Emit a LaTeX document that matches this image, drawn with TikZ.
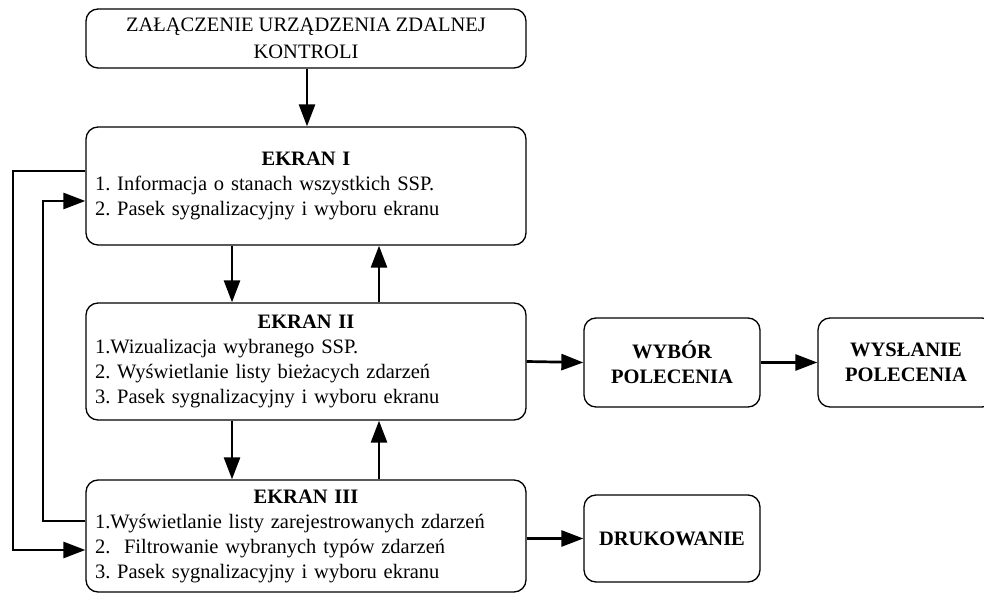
\documentclass[tikz,border=0pt]{standalone}
\usepackage{fontspec}
\setmainfont{Liberation Serif}
\usetikzlibrary{arrows.meta}
\frenchspacing

\tikzset{
  box/.style={draw, line width=1.3pt, rounded corners=12pt, align=center,
    inner sep=0pt},
  screen/.style={box, minimum width=440pt, text width=422pt, align=left},
  cmd/.style={box, minimum width=176pt, font=\fontsize{20.5}{25}\selectfont\bfseries},
  flow/.style={line width=2.7pt, -{Triangle[length=22pt,width=16pt]}}
}

\begin{document}
\begin{tikzpicture}[x=1pt,y=1pt,font=\fontsize{20.5}{25}\selectfont]
\useasboundingbox (0,0) rectangle (984,594);

% start box
\node[box, minimum width=440pt, minimum height=59pt,
      font=\fontsize{20.5}{27}\selectfont] (start) at (306,555.5)
  {ZAŁĄCZENIE URZĄDZENIA ZDALNEJ\\KONTROLI};

% screens
\node[screen, minimum height=118pt] (e1) at (306,408)
  {\makebox[\linewidth]{\bfseries EKRAN I}\\
   1. Informacja o stanach wszystkich SSP.\\
   2. Pasek sygnalizacyjny i wyboru ekranu};

\node[screen, minimum height=117pt] (e2) at (306,232.5)
  {\makebox[\linewidth]{\bfseries EKRAN II}\\
   1.Wizualizacja wybranego SSP.\\
   2. Wyświetlanie listy bieżacych zdarzeń\\
   3. Pasek sygnalizacyjny i wyboru ekranu};

\node[screen, minimum height=112pt] (e3) at (306,58)
  {\makebox[\linewidth]{\bfseries EKRAN III}\\
   1.Wyświetlanie listy zarejestrowanych zdarzeń\\
   2.\ \ Filtrowanie wybranych typów zdarzeń\\
   3. Pasek sygnalizacyjny i wyboru ekranu};

% command boxes
\node[cmd, minimum height=89pt] (wyb) at (672,231.5) {WYBÓR\\POLECENIA};
\node[cmd, minimum height=89pt] (wys) at (906,231.5) {WYSŁANIE\\POLECENIA};
\node[cmd, minimum height=87pt] (druk) at (672,55.5) {DRUKOWANIE};

% vertical flow between screens
\draw[flow] (start.south -| 307,0) -- (e1.north -| 307,0);
\draw[flow] (e1.south -| 232,0) -- (e2.north -| 232,0);
\draw[flow] (e2.north -| 379,0) -- (e1.south -| 379,0);
\draw[flow] (e2.south -| 232,0) -- (e3.north -| 232,0);
\draw[flow] (e3.north -| 379,0) -- (e2.south -| 379,0);

% horizontal flow
\draw[flow] (e2.east) -- (wyb.west);
\draw[flow] (wyb.east) -- (wys.west);
\draw[flow] (e3.east |- druk.west) -- (druk.west);

% return loops on the left
\coordinate (o1) at (13,423);
\coordinate (o2) at (13,44);
\draw[flow, line join=miter] (e1.west |- o1) -- (o1) -- (o2) -- (e3.west |- o2);

\coordinate (i1) at (43,73);
\coordinate (i2) at (43,393);
\draw[flow, line join=miter] (e3.west |- i1) -- (i1) -- (i2) -- (e1.west |- i2);
\end{tikzpicture}
\end{document}
